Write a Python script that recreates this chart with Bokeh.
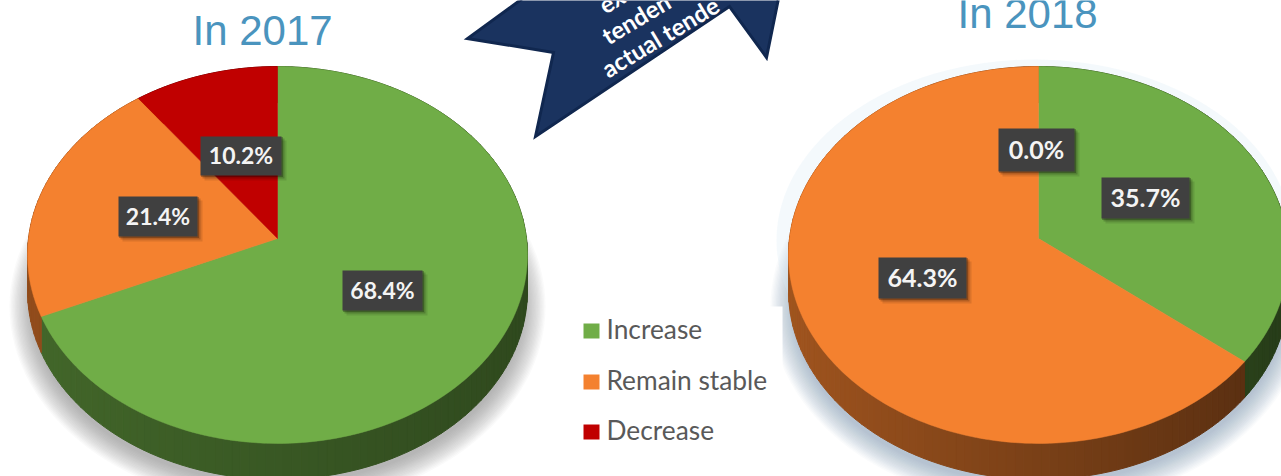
import numpy as np
from bokeh.embed import file_html
from bokeh.models import Range1d
from bokeh.plotting import figure
from bokeh.resources import INLINE
from bokeh.core.properties import value

categories = ["Increase", "Remain stable", "Decrease"]
share_2017 = [68.4, 21.4, 10.2]
share_2018 = [35.7, 64.3, 0.0]
year_titles = ["In 2017", "In 2018"]
ribbon_lines = ["ex", "tenden", "actual tende"]

TOP_COLORS = ["#70AD47", "#F4812F", "#C00000"]
TITLE_COLOR = "#4A94BE"
BOX_COLOR = "#404040"

W, H = 1281, 476
p = figure(width=W, height=H, output_backend="svg", toolbar_location=None,
           x_range=Range1d(0, W), y_range=Range1d(H, 0),
           min_border=0, outline_line_color=None, background_fill_color="white")
p.axis.visible = False
p.grid.visible = False


def project(t, cx, cy=238.0, b=249.0, a=187.0, k=0.0875):
    """Tilted disc: the hub sits above the middle of the ellipse it projects to."""
    u, v = np.sin(t), np.cos(t)
    d = 1 + k * v
    return cx + b * u / d, cy - a * v / d


def shade(color, f):
    rgb = [int(color[i:i + 2], 16) for i in (1, 3, 5)]
    return "#%02x%02x%02x" % tuple(int(c * f) for c in rgb)


def draw_shadow(cx, color, steps=18):
    for i in range(steps):
        grow = 24 - i * 24 / steps
        p.ellipse([cx], [306], width=[2 * (244 + grow)], height=[2 * (176 + grow)],
                  fill_color=color, fill_alpha=0.035, line_color=None)


def draw_pie(cx, shares, side_left, side_right, depth=36.0):
    edges = np.cumsum([0.0] + list(shares)) / 100.0 * 2 * np.pi
    xs, ys, cols = [], [], []
    for i, base in enumerate(TOP_COLORS):
        if shares[i] <= 0:
            continue
        ts = np.linspace(edges[i], edges[i + 1], max(3, int(shares[i] * 2)))
        for t0, t1 in zip(ts[:-1], ts[1:]):
            x0, y0 = project(t0, cx)
            x1, y1 = project(t1, cx)
            xs.append([x0, x1, x1, x0])
            ys.append([y0, y1, y1 + depth, y0 + depth])
            m = (np.sin((t0 + t1) / 2) + 1) / 2
            cols.append(shade(base, side_left + (side_right - side_left) * m))
    p.patches(xs, ys, fill_color=cols, line_color=cols, line_width=1)

    for i, base in enumerate(TOP_COLORS):
        if shares[i] <= 0:
            continue
        ts = np.linspace(edges[i], edges[i + 1], 180)
        x, y = project(ts, cx)
        p.patch(np.r_[cx, x], np.r_[238.0, y], fill_color=base, line_color=base, line_width=0.5)


def draw_label(x0, x1, y0, y1, number, size):
    for off, alpha in ((5, 0.10), (3, 0.18), (1.5, 0.25)):
        p.quad(left=[x0 + off - 1], right=[x1 + off], top=[y0 + off - 1], bottom=[y1 + off],
               fill_color="#000000", fill_alpha=alpha, line_color=None)
    p.quad(left=[x0], right=[x1], top=[y0], bottom=[y1], fill_color=BOX_COLOR, line_color=None)
    p.text([(x0 + x1) / 2], [(y0 + y1) / 2 - 1], text=[f"{number:.1f}%"],
           text_font=value("Lato"), text_font_style="bold", text_font_size=f"{size}px",
           text_color="#F4F4F4", text_align="center", text_baseline="middle")


# soft shadows under both discs
draw_shadow(277, "#70707a")
draw_shadow(1038, "#6f8fa8")

# faint halo on the left of the 2018 disc
p.ellipse([1034], [240], width=[516], height=[362], fill_color="#dcebf6", fill_alpha=0.3, line_color=None)

# white panel behind the legend
p.quad(left=[560], right=[782], top=[306], bottom=[H], fill_color="white", line_color=None)

draw_pie(277, share_2017, 0.60, 0.42)
draw_pie(1038, share_2018, 0.66, 0.34)

# ribbon banner between the two discs
ribbon_x = [522, 467, 553, 535, 729, 766, 778]
ribbon_y = [-2, 38, 52, 136, 6, 57, -2]
p.patch(ribbon_x, ribbon_y, fill_color="#1A335F", line_color="#10274F", line_width=3, line_join="miter")
ribbon_pos = [(600, 6), (603, 37), (603, 70)]
for line, (tx, ty) in zip(ribbon_lines, ribbon_pos):
    p.text([tx], [ty], text=[line], angle=np.deg2rad(31), text_font=value("Lato"),
           text_font_style="bold", text_font_size="24px", text_color="white",
           text_align="left", text_baseline="middle")

# titles
for title, tx, ty in zip(year_titles, (192, 957), (30, 13)):
    p.text([tx], [ty], text=[title], text_font=value("Liberation Sans"), text_font_size="42px",
           text_color=TITLE_COLOR, text_align="left", text_baseline="middle")

# value labels
draw_label(342, 422, 270, 310, share_2017[0], 23)
draw_label(118, 197, 196, 236, share_2017[1], 23)
draw_label(200, 281, 136, 175, share_2017[2], 23)
draw_label(1101, 1189, 177, 218, share_2018[0], 25)
draw_label(878, 966, 257, 298, share_2018[1], 25)
draw_label(998, 1074, 128, 171, share_2018[2], 25)

# legend
for name, color, y in zip(categories, TOP_COLORS, (330.5, 381.5, 431.5)):
    p.quad(left=[583], right=[599], top=[y - 7.5], bottom=[y + 7.5], fill_color=color, line_color=None)
    p.text([606], [y - 2], text=[name], text_font=value("Lato"), text_font_size="26.3px",
           text_color="#595959", text_align="left", text_baseline="middle")

open("out.html", "w").write(file_html(p, INLINE))
